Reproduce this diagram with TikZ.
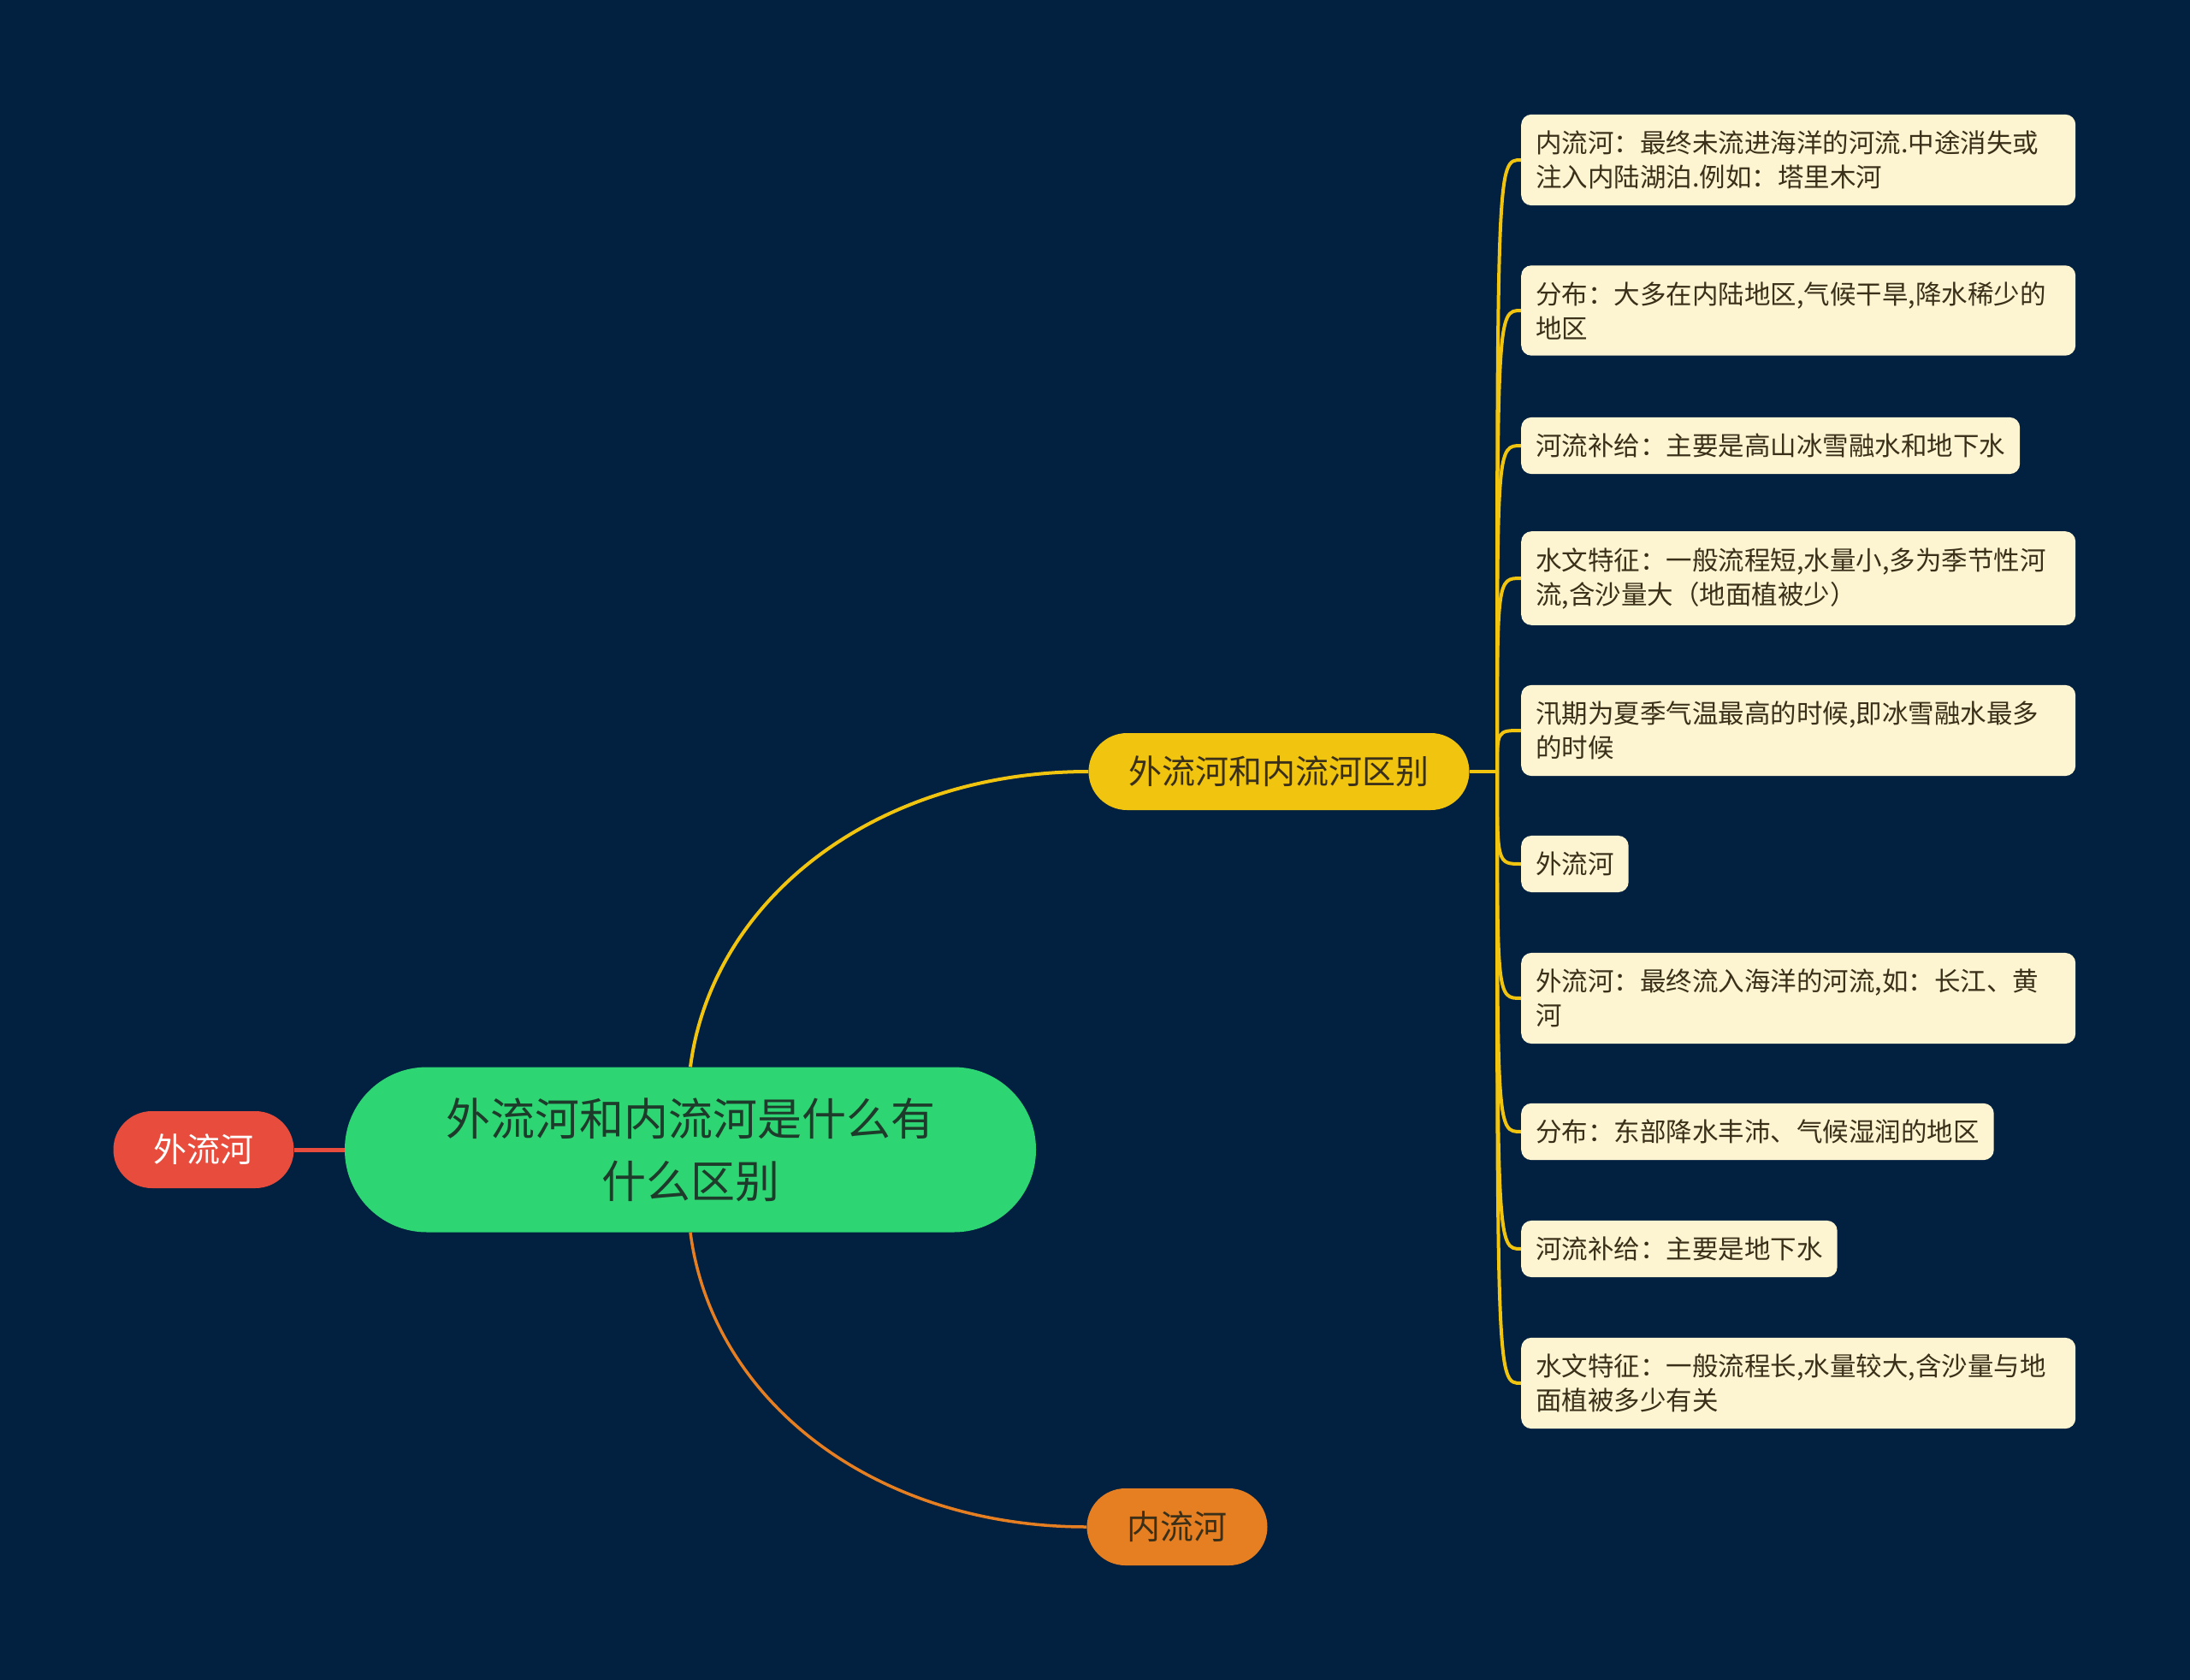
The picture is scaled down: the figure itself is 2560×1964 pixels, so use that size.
\documentclass[tikz,border=0pt]{standalone}
\usepackage{fontspec}
\setmainfont{Noto Sans CJK SC}
\usetikzlibrary{arrows.meta}

\definecolor{bgnavy}{RGB}{2,32,63}
\definecolor{rootgreen}{HTML}{2ED573}
\definecolor{roottext}{HTML}{1E3A2A}
\definecolor{redtopic}{HTML}{E74C3C}
\definecolor{yeltopic}{HTML}{F1C40F}
\definecolor{oratopic}{HTML}{E67E22}
\definecolor{leafcream}{HTML}{FDF5D1}
\definecolor{leaftext}{HTML}{3A3019}

\begin{document}
\begin{tikzpicture}[x=1pt, y=-1pt,
    root/.style={fill=rootgreen, text=roottext, rounded corners=96pt, minimum width=808pt, minimum height=193pt, align=center, font=\fontsize{52}{73}\selectfont},
    topic/.style={rounded corners=45pt, minimum width=209pt, minimum height=90pt, inner xsep=47pt, font=\fontsize{39}{47}\selectfont},
    leaf/.style={fill=leafcream, text=leaftext, rounded corners=12pt, anchor=west, align=left, inner xsep=17pt, inner ysep=19pt, font=\fontsize{30.5}{40}\selectfont},
    wideleaf/.style={leaf, text width=614pt},
    yline/.style={draw=yeltopic, line width=4pt},
    oline/.style={draw=oratopic, line width=3.5pt},
    rline/.style={draw=redtopic, line width=5pt}]
    \fill[bgnavy] (0,0) rectangle (2560,1964);

    % centre and first level
    \node[root] (root) at (807,1344) {外流河和内流河是什么有\\什么区别};
    \node[topic, fill=redtopic, text=white] (wai) at (238,1344) {外流河};
    \node[topic, fill=yeltopic, text=leaftext] (diff) at (1495,902) {外流河和内流河区别};
    \node[topic, fill=oratopic, text=leaftext] (nei) at (1376,1785) {内流河};

    % leaves
    \node[wideleaf] (l1) at (1778,187) {内流河：最终未流进海洋的河流.中途消失或\\注入内陆湖泊.例如：塔里木河};
    \node[wideleaf] (l2) at (1778,363) {分布：大多在内陆地区,气候干旱,降水稀少的\\地区};
    \node[leaf] (l3) at (1778,521) {河流补给：主要是高山冰雪融水和地下水};
    \node[wideleaf] (l4) at (1778,676) {水文特征：一般流程短,水量小,多为季节性河\\流,含沙量大（地面植被少）};
    \node[wideleaf] (l5) at (1778,854) {汛期为夏季气温最高的时候,即冰雪融水最多\\的时候};
    \node[leaf] (l6) at (1778,1010) {外流河};
    \node[wideleaf] (l7) at (1778,1167) {外流河：最终流入海洋的河流,如：长江、黄\\河};
    \node[leaf] (l8) at (1778,1323) {分布：东部降水丰沛、气候湿润的地区};
    \node[leaf] (l9) at (1778,1460) {河流补给：主要是地下水};
    \node[wideleaf] (l10) at (1778,1617) {水文特征：一般流程长,水量较大,含沙量与地\\面植被多少有关};

    % connectors
    \draw[rline] (root.west) -- (wai.east);
    \draw[yline] (root.north) .. controls +(25,-195) and +(-250,0) .. (diff.west);
    \draw[oline] (root.south) .. controls +(25,195) and +(-250,0) .. (nei.west);
    \coordinate (hub) at (1750,902);
    \draw[yline] (diff.east) -- (hub);
    \foreach \n in {l1,l2,l3,l4,l5,l6,l7,l8,l9,l10}
        \draw[yline] (hub) .. controls (hub |- \n.west) .. (\n.west);
\end{tikzpicture}
\end{document}
